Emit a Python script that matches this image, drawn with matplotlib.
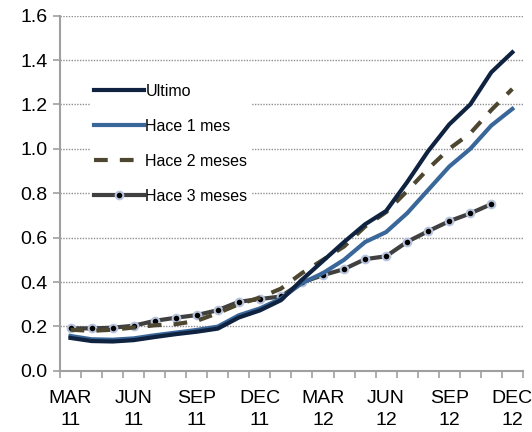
import numpy as np
import matplotlib
matplotlib.use("Agg")
import matplotlib.pyplot as plt

plt.rcParams['font.family'] = ['Liberation Sans', 'DejaVu Sans']

# monthly, MAR 11 .. DEC 12
months = ["MAR\n11", "", "", "JUN\n11", "", "", "SEP\n11", "", "", "DEC\n11", "", "",
          "MAR\n12", "", "", "JUN\n12", "", "", "SEP\n12", "", "", "DEC\n12"]

ultimo = [0.148, 0.134, 0.132, 0.138, 0.152, 0.165, 0.176, 0.19, 0.24, 0.272, 0.318,
          0.41, 0.495, 0.58, 0.66, 0.72, 0.85, 0.99, 1.11, 1.20, 1.345, 1.435]
hace1 = [0.157, 0.142, 0.14, 0.146, 0.16, 0.172, 0.184, 0.199, 0.25, 0.281, 0.325,
         0.395, 0.44, 0.50, 0.58, 0.625, 0.71, 0.815, 0.92, 1.0, 1.105, 1.18]
hace2 = [0.185, 0.18, 0.185, 0.195, 0.205, 0.21, 0.225, 0.26, 0.30, 0.33, 0.37,
         0.44, 0.50, 0.56, 0.65, 0.715, 0.81, 0.91, 1.0, 1.07, 1.175, 1.27]
hace3 = [0.191, 0.191, 0.194, 0.203, 0.225, 0.239, 0.251, 0.273, 0.311, 0.323, 0.335,
         0.398, 0.431, 0.458, 0.503, 0.516, 0.581, 0.629, 0.674, 0.709, 0.751, np.nan]

x = np.arange(len(months))

fig = plt.figure(figsize=(5.32, 4.32), dpi=100)
ax = fig.add_axes([0.1128, 0.1417, 0.870, 0.822])

ax.plot(x, hace3, color='#404040', lw=3, marker='o', ms=5.5,
        mfc='black', mec='#b8c4dc', mew=1.5, label='Hace 3 meses', zorder=3)
ax.plot(x, hace2, color='#4d4630', lw=3, dashes=(3.3, 2.9), label='Hace 2 meses', zorder=4)
ax.plot(x, hace1, color='#3a6799', lw=3, label='Hace 1 mes', zorder=5)
ax.plot(x, ultimo, color='#0f2240', lw=3, label='Ultimo', zorder=6)

ax.set_xlim(-0.5, len(months) - 0.5)
ax.set_ylim(0, 1.6)
ax.set_yticks(np.arange(0, 1.61, 0.2))
ax.set_yticklabels([f"{v:.1f}" for v in np.arange(0, 1.61, 0.2)])
ax.set_xticks(x[::3])
ax.set_xticklabels([months[i] for i in x[::3]], linespacing=1.35)
ax.set_xticks(np.arange(-0.5, len(months)), minor=True)
ax.tick_params(axis='x', which='major', length=0, pad=14, labelsize=14)
ax.tick_params(axis='x', which='minor', length=5, width=1.2, color='#a0a0a0')
ax.tick_params(axis='y', length=5, width=1.2, color='#a0a0a0', labelsize=14, pad=4)

for v in np.arange(0.2, 1.61, 0.2):
    ax.axhline(v, color='#909090', lw=1, ls=(0, (1, 1)), zorder=1)

for s in ['top', 'right']:
    ax.spines[s].set_visible(False)
for s in ['left', 'bottom']:
    ax.spines[s].set_color('#a0a0a0')
    ax.spines[s].set_linewidth(1.5)

h, l = ax.get_legend_handles_labels()
order = [3, 2, 1, 0]
leg = ax.legend([h[i] for i in order], [l[i] for i in order], loc='upper left',
                bbox_to_anchor=(0.05, 0.84), fontsize=11.5, frameon=True,
                handlelength=3.1, handletextpad=0.1, labelspacing=1.25,
                borderpad=0.2, facecolor='white', edgecolor='none', framealpha=1)
leg.set_zorder(10)

fig.savefig('out.png', dpi=100)
